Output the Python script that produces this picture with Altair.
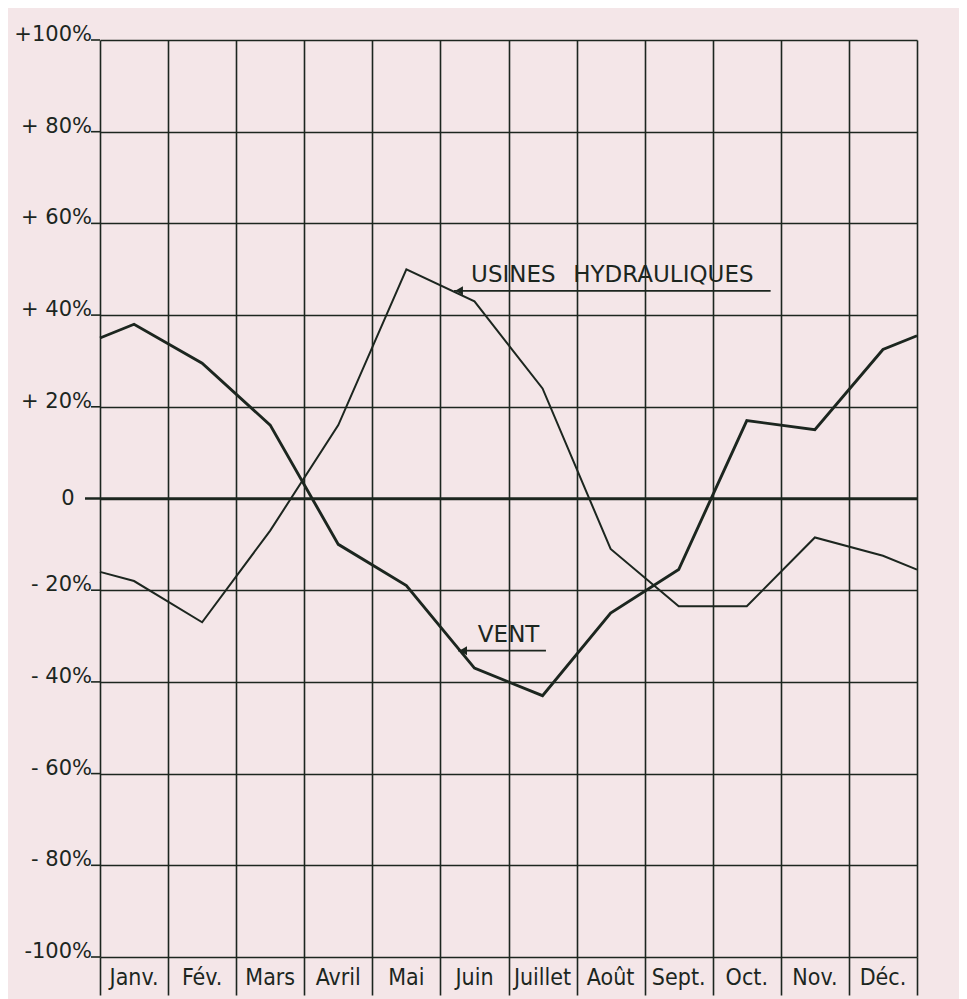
import altair as alt
import pandas as pd

# ---- data ----
months = ["Janv.", "Fév.", "Mars", "Avril", "Mai", "Juin", "Juillet", "Août",
          "Sept.", "Oct.", "Nov.", "Déc."]
month_centers = [0.5, 1.5, 2.5, 3.5, 4.5, 5.5, 6.5, 7.5, 8.5, 9.5, 10.5, 11.5]

x_points = [0, 0.5, 1.5, 2.5, 3.5, 4.5, 5.5, 6.5, 7.5, 8.5, 9.5, 10.5, 11.5, 12]
vent = [35, 38, 29.5, 16, -10, -19, -37, -43, -25, -15.5, 17, 15, 32.5, 35.5]
usines = [-16, -18, -27, -7, 16, 50, 43, 24, -11, -23.5, -23.5, -8.5, -12.5, -15.5]

y_ticks = [100, 80, 60, 40, 20, 0, -20, -40, -60, -80, -100]
y_labels = ["+100%", "+ 80%", "+ 60%", "+ 40%", "+ 20%", "0",
            "- 20%", "- 40%", "- 60%", "- 80%", "-100%"]
month_bounds = [0, 1, 2, 3, 4, 5, 6, 7, 8, 9, 10, 11, 12]

# ---- tables ----
rows = []
for i, (x, v) in enumerate(zip(x_points, vent)):
    rows.append({"series": "VENT", "x": x, "y": v, "i": i})
for i, (x, v) in enumerate(zip(x_points, usines)):
    rows.append({"series": "USINES HYDRAULIQUES", "x": x, "y": v, "i": i})
df = pd.DataFrame(rows)
df_months = pd.DataFrame({"m": months, "pos": month_centers})
df_ylab = pd.DataFrame({"v": y_ticks, "lab": y_labels})
one = alt.Data(values=[{"k": 0}])

INK = "#1c261f"
PAPER = "#f4e6e8"
W, H = 817, 917

xscale = alt.Scale(domain=[0, 12], nice=False, zero=False)
yscale = alt.Scale(domain=[-100, 100], nice=False, zero=False)

xaxis = alt.Axis(values=month_bounds, grid=True, gridColor=INK, gridWidth=1.6,
                 gridOpacity=1, ticks=True, tickSize=38, tickColor=INK, tickWidth=1.6,
                 labels=False, domain=False, title=None)
yaxis = alt.Axis(values=y_ticks, grid=True, gridColor=INK, gridWidth=1.6, gridOpacity=1,
                 ticks=False, labels=False, domain=False, title=None)

lines = alt.Chart(df).mark_line(color=INK, strokeJoin="miter").encode(
    x=alt.X("x:Q", scale=xscale, axis=xaxis),
    y=alt.Y("y:Q", scale=yscale, axis=yaxis),
    detail="series:N",
    order="i:Q",
    strokeWidth=alt.StrokeWidth("series:N",
                                scale=alt.Scale(domain=["VENT", "USINES HYDRAULIQUES"],
                                                range=[2.9, 2.0]),
                                legend=None),
)

# small tick marks at left of the axis (non-zero rows) and long zero line
ticks_left = alt.Chart(df_ylab).transform_filter("datum.v != 0").mark_rule(
    color=INK, strokeWidth=1.6
).encode(x=alt.value(-9), x2=alt.value(0), y=alt.Y("v:Q", scale=yscale))

zero_rule = alt.Chart(one).mark_rule(color=INK, strokeWidth=2.4).encode(
    x=alt.value(-15), x2=alt.value(W), y=alt.datum(0, scale=yscale)
)

ylab_text = alt.Chart(df_ylab).transform_filter("datum.v != 0").mark_text(
    font="DejaVu Sans", fontSize=21, color=INK, align="right", baseline="alphabetic", dy=1
).encode(x=alt.value(-8), y=alt.Y("v:Q", scale=yscale), text="lab:N")

zero_text = alt.Chart(df_ylab).transform_filter("datum.v == 0").mark_text(
    font="DejaVu Sans", fontSize=21, color=INK, align="center", baseline="middle"
).encode(x=alt.value(-32), y=alt.Y("v:Q", scale=yscale), text="lab:N")

month_text = alt.Chart(df_months).mark_text(
    font="Liberation Sans Narrow, DejaVu Sans Condensed, sans-serif",
    fontSize=23, color=INK, baseline="middle", align="center"
).encode(x=alt.X("pos:Q", scale=xscale), y=alt.value(H + 21), text="m:N")

def label(txt, x, y, size=23):
    return alt.Chart(one).mark_text(
        text=txt, font="DejaVu Sans", fontSize=size, color=INK,
        align="left", baseline="alphabetic"
    ).encode(x=alt.datum(x, scale=xscale), y=alt.datum(y, scale=yscale))

def arrow(x1, x2, y):
    r = alt.Chart(one).mark_rule(color=INK, strokeWidth=1.8).encode(
        x=alt.datum(x1, scale=xscale), x2=alt.datum(x2), y=alt.datum(y, scale=yscale))
    h = alt.Chart(one).mark_point(shape="triangle-left", filled=True, color=INK,
                                  size=80, opacity=1, xOffset=5).encode(
        x=alt.datum(x1, scale=xscale), y=alt.datum(y, scale=yscale))
    return r + h

ann = (label("USINES", 5.45, 47.3) + label("HYDRAULIQUES", 6.95, 47.3)
       + arrow(5.2, 9.85, 45.3)
       + label("VENT", 5.55, -31.2) + arrow(5.26, 6.55, -33.2))

chart = alt.layer(lines, ticks_left, zero_rule, ylab_text, zero_text, month_text, ann).properties(
    width=W, height=H,
    autosize=alt.AutoSizeParams(type="none"),
    padding={"left": 92, "top": 32, "right": 42, "bottom": 42},
    background=PAPER,
).configure_view(stroke=None)

chart.save("out.html", embed_options={"renderer": "svg", "actions": False})
